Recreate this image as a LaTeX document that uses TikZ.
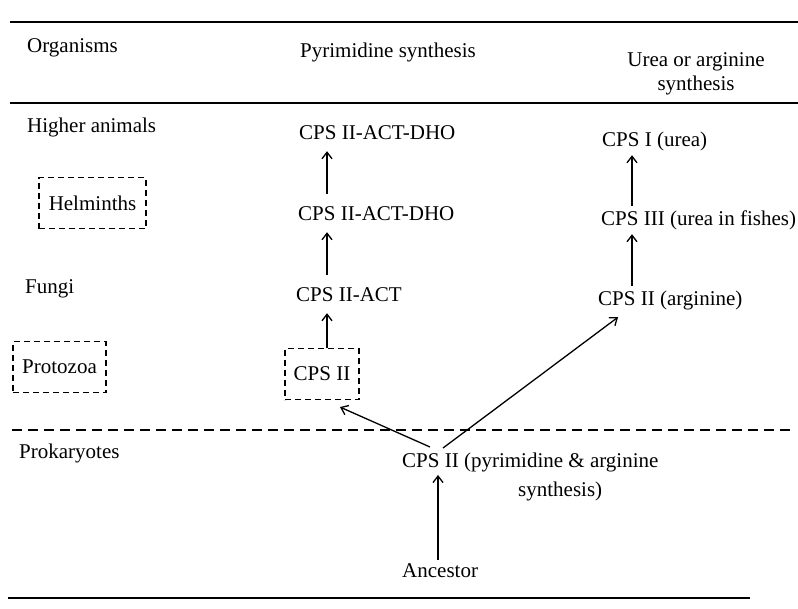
\documentclass[tikz,border=0pt]{standalone}
\usepackage{fontspec}
\setmainfont{Liberation Serif}
\usetikzlibrary{arrows.meta}

\begin{document}
\begin{tikzpicture}[x=1pt, y=-1pt,
  font=\fontsize{21}{24}\selectfont,
  every node/.style={inner sep=2pt},
  lbl/.style={anchor=base west, text height=15pt, text depth=5pt},
  rule/.style={line width=2.4pt},
  divider/.style={line width=1.6pt, dash pattern=on 10pt off 6pt},
  dbox/.style={draw, line width=1.1pt, dash pattern=on 6pt off 4pt, minimum height=51pt},
  up/.style={-{Straight Barb[length=6.5pt,width=10pt]}, line width=1.3pt}]

\useasboundingbox (0,0) rectangle (798,608);

% Draw the rules of the table
\draw[rule] (10,22) -- (798,22);
\draw[rule] (10,103) -- (798,103);
\draw[divider] (12,430) -- (790,430);
\draw[rule] (8,598) -- (750,598);

% Column headings
\node[lbl] (orgs) at (25,52) {Organisms};
\node[lbl] (pyrim) at (298,57) {Pyrimidine synthesis};
\node[anchor=north, align=center] (urea) at (696,50) {Urea or arginine\\synthesis};

% Organisms
\node[lbl] (higher) at (25,132) {Higher animals};
\node[dbox, minimum width=107pt] (helm) at (92.5,203) {Helminths};
\node[lbl] (fungi) at (23,293) {Fungi};
\node[dbox, minimum width=93pt] (proto) at (59.5,367) {Protozoa};
\node[lbl] (prok) at (17,458) {Prokaryotes};

% Pyrimidine synthesis
\node[lbl] (dhoA) at (297,139) {CPS II-ACT-DHO};
\node[lbl] (dhoB) at (296,220) {CPS II-ACT-DHO};
\node[lbl] (act) at (294,301) {CPS II-ACT};
\node[dbox, minimum width=74pt] (cpsbox) at (322,374) {CPS II};

% Urea or arginine synthesis
\node[lbl] (cpsI) at (600,146) {CPS I (urea)};
\node[lbl] (cpsIII) at (599,225) {CPS III (urea in fishes)};
\node[lbl] (cpsarg) at (596,305) {CPS II (arginine)};

% Common root
\node[anchor=north west, align=left] (root) at (400,451)
  {CPS II (pyrimidine \& arginine\\[5pt]\hspace*{116pt}synthesis)};
\node[lbl] (anc) at (400,577) {Ancestor};

\coordinate (pcol) at (327,0);
\coordinate (ucol) at (632,0);
\coordinate (forkL) at (430,447);
\coordinate (forkR) at (443,448);
\coordinate (foot) at (438,475);

% Arrows
\draw[up, shorten >=5pt] (cpsbox.north -| pcol) -- (act.south -| pcol);
\draw[up, shorten <=9pt, shorten >=5pt] (act.north -| pcol) -- (dhoB.south -| pcol);
\draw[up, shorten <=9pt, shorten >=5pt] (dhoB.north -| pcol) -- (dhoA.south -| pcol);

\draw[up, shorten <=2pt, shorten >=2pt] (cpsarg.north -| ucol) -- (cpsIII.south -| ucol);
\draw[up, shorten <=2pt, shorten >=2pt] (cpsIII.north -| ucol) -- (cpsI.south -| ucol);

\draw[up] (anc.north -| foot) -- (foot);
\draw[up] (forkL) -- ([xshift=18pt,yshift=-7pt]cpsbox.south);
\draw[up] (forkR) -- ([xshift=22pt,yshift=-5pt]cpsarg.south west);

\end{tikzpicture}
\end{document}
